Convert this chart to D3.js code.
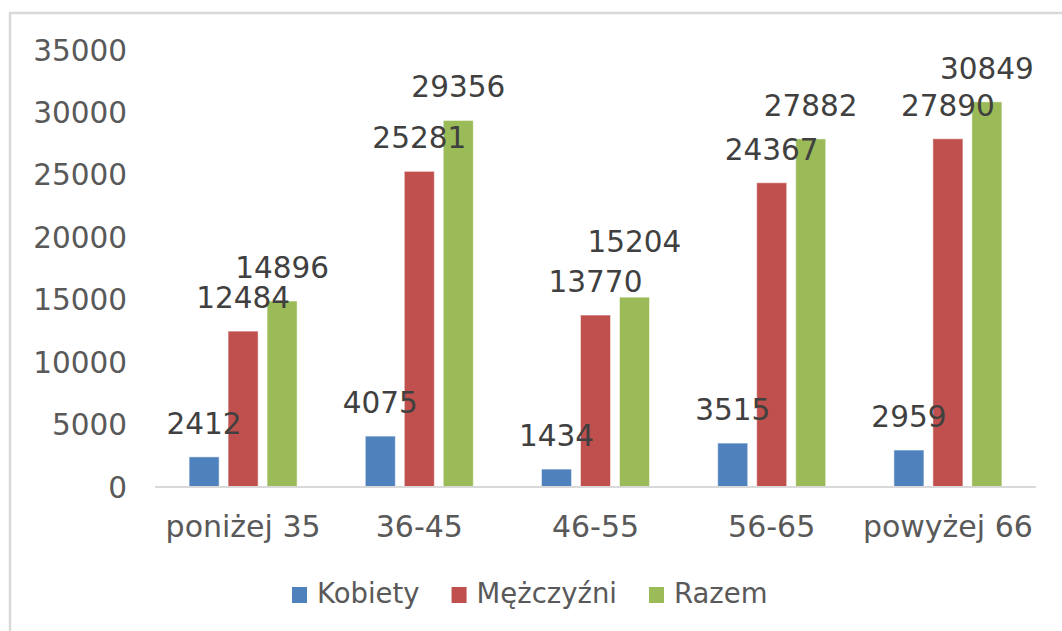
<!DOCTYPE html>
<html>
<head>
<meta charset="utf-8">
<script src="https://cdn.jsdelivr.net/npm/d3@7"></script>
<style>
  body { margin: 0; background: #fff; }
  svg { display: block; font-family: "DejaVu Sans", Verdana, sans-serif; }
</style>
</head>
<body>
<div id="chart"></div>
<script>
// categories and series
const categories = ["poniżej 35", "36-45", "46-55", "56-65", "powyżej 66"];
const seriesNames = ["Kobiety", "Mężczyźni", "Razem"];
const kobiety = [2412, 4075, 1434, 3515, 2959];
const mezczyzni = [12484, 25281, 13770, 24367, 27890];
const razem = [14896, 29356, 15204, 27882, 30849];
const yTicks = [0, 5000, 10000, 15000, 20000, 25000, 30000, 35000];

const colors = { "Kobiety": "#4f81bd", "Mężczyźni": "#c0504d", "Razem": "#9bbb59" };

var width = 1062, height = 631;
var plot = { left: 155, right: 1036, top: 50, bottom: 487 };

const svg = d3.select("#chart").append("svg")
    .attr("width", width)
    .attr("height", height);

// outer frame (only top and left edges are visible in the picture)
svg.append("rect")
    .attr("x", 10).attr("y", 13)
    .attr("width", width + 20).attr("height", height + 20)
    .attr("fill", "none")
    .attr("stroke", "#d9d9d9")
    .attr("stroke-width", 2.5);

var x0 = d3.scaleBand().domain(categories).range([plot.left, plot.right]);
var x1 = d3.scaleBand().domain(seriesNames).range([-54, 54]).paddingInner(0.23);
var y = d3.scaleLinear().domain([0, 35000]).range([plot.bottom, plot.top]);

// y tick labels only, no axis line
svg.append("g").selectAll("text")
    .data(yTicks)
    .join("text")
    .attr("x", 127)
    .attr("y", (d) => y(d))
    .attr("dy", "0.36em")
    .attr("text-anchor", "end")
    .attr("fill", "#595959")
    .style("font-size", "29.5px")
    .text((d) => d);

// rows of data: one per category and series
const values = { "Kobiety": kobiety, "Mężczyźni": mezczyzni, "Razem": razem };
const rows = [];
categories.forEach((c, i) => {
    seriesNames.forEach((s) => rows.push({ cat: c, series: s, value: values[s][i] }));
});

svg.append("g").selectAll("rect")
    .data(rows)
    .join("rect")
    .attr("x", (d) => x0(d.cat) + x0.bandwidth() / 2 + x1(d.series))
    .attr("y", (d) => y(d.value))
    .attr("width", x1.bandwidth())
    .attr("height", (d) => y(0) - y(d.value))
    .attr("fill", (d) => colors[d.series])
    .attr("stroke", "#fff")
    .attr("stroke-opacity", 0.5)
    .attr("stroke-width", 1);

// baseline
svg.append("line")
    .attr("x1", plot.left).attr("x2", plot.right)
    .attr("y1", y(0)).attr("y2", y(0))
    .attr("stroke", "#d9d9d9")
    .attr("stroke-width", 2);

// data labels (one label was dragged a bit higher in the original)
const extraLift = { "46-55|Razem": 22 };
svg.append("g").selectAll("text")
    .data(rows)
    .join("text")
    .attr("x", (d) => x0(d.cat) + x0.bandwidth() / 2 + x1(d.series) + x1.bandwidth() / 2)
    .attr("y", (d) => y(d.value) - 23 - (extraLift[d.cat + "|" + d.series] || 0))
    .attr("text-anchor", "middle")
    .attr("fill", "#404040")
    .style("font-size", "29.5px")
    .text((d) => d.value);

// category labels
svg.append("g").selectAll("text")
    .data(categories)
    .join("text")
    .attr("x", (d) => x0(d) + x0.bandwidth() / 2)
    .attr("y", 537)
    .attr("text-anchor", "middle")
    .attr("fill", "#595959")
    .style("font-size", "30px")
    .text((d) => d);

// legend
const legend = svg.append("g").attr("transform", "translate(292,603)");
let lx = 0;
seriesNames.forEach((s) => {
    legend.append("rect")
        .attr("x", lx).attr("y", -16)
        .attr("width", 15).attr("height", 16)
        .attr("fill", colors[s]);
    const t = legend.append("text")
        .attr("x", lx + 25)
        .attr("y", 0)
        .attr("fill", "#595959")
        .style("font-size", "27.5px")
        .text(s);
    lx += 25 + t.node().getComputedTextLength() + 32;
});
</script>
</body>
</html>
